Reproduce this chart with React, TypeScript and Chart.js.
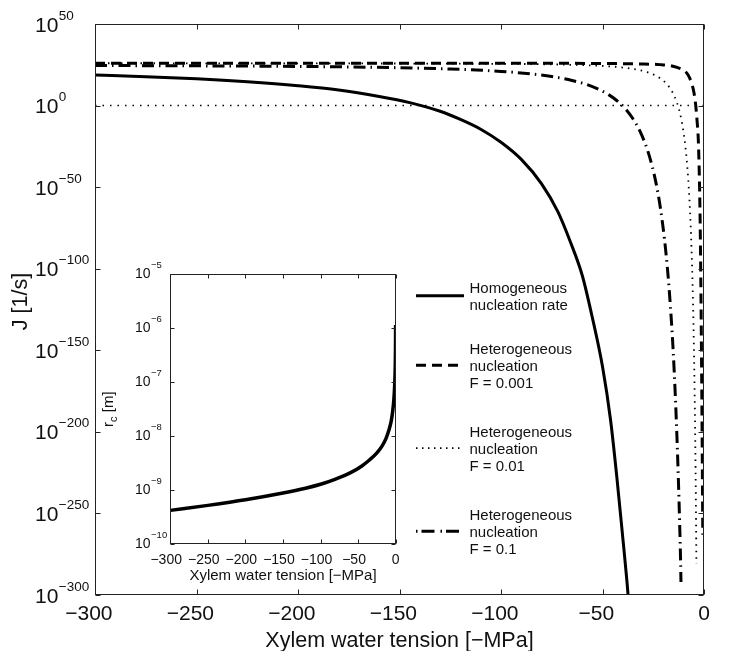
import React, { useEffect, useRef } from "react";
import { Chart, registerables } from "chart.js";

Chart.register(...registerables);

const FONT = '"Liberation Sans", Arial, Helvetica, sans-serif';
const INK = "#111";

// ---------- main chart data ----------
const X_TICKS = [-300, -250, -200, -150, -100, -50, 0];
const Y_TICK_EXPS = [50, 0, -50, -100, -150, -200, -250, -300];

// log10(J) values
const HOMO_X = [-300, -275, -250, -225, -200, -180, -160, -145, -130, -120, -110, -100, -90, -80, -72, -66, -60, -55, -50, -46, -43, -40, -38, -37];
const HOMO_LOGJ = [18.7, 17.7, 16.4, 14.6, 12.2, 9.6, 5.6, 1.8, -3.5, -8.5, -14.5, -22.5, -33, -48, -65, -83, -104, -130, -160, -193, -227, -265, -291, -306];

const F001_X = [-300, -100, -50, -30, -21.7, -16.7, -13.3, -10.2, -7.9, -6.06, -4.93, -4.19, -3.45, -2.8, -2.32, -1.97, -1.58, -1.13, -0.84, -0.59];
const F001_LOGJ = [26.0, 25.95, 25.8, 25.5, 25.1, 24.5, 23.4, 21.8, 18.9, 13.6, 7.8, 1.4, -8.8, -21.1, -42, -65, -105, -168, -217, -263];

const F01_X = [-300, -100, -60, -45, -38, -32, -28, -24, -21, -18.5, -16.5, -15, -13.5, -12.3, -11.2, -10.2, -9.3, -8.5, -7.8, -7.2, -6.6, -6.1, -5.6, -5.2, -4.8, -4.45, -4.15, -3.9, -3.74];
const F01_LOGJ = [25.95, 25.57, 24.8, 23.9, 23.0, 21.8, 20.5, 18.5, 16.2, 13.4, 10.2, 6.9, 2.4, -2.4, -8.3, -15.3, -23.7, -33.5, -44.7, -57, -72.7, -89.6, -111, -133, -160.6, -191, -223.7, -256.7, -281];

const F1_X = [-300, -250, -200, -150, -125, -100, -85, -75, -65, -58, -52, -47, -43, -39, -35, -31.5, -28, -25.5, -23.5, -21.5, -19.5, -18, -16.5, -15.2, -14.2, -13.3, -12.6, -12, -11.5, -11.35];
const F1_LOGJ = [24.55, 24.35, 24.0, 23.2, 22.4, 20.95, 19.4, 17.8, 15.4, 13.0, 10.0, 6.7, 3.1, -1.6, -8.1, -15.8, -26.7, -37.3, -48.3, -62.6, -81.5, -100, -123.8, -150, -175.9, -204, -230, -256, -281, -292];

const REF_X = [-300, 0];
const REF_LOGJ = [0, 0];

const LEGEND_LABELS = [
  ["Homogeneous", "nucleation rate"],
  ["Heterogeneous", "nucleation", "F = 0.001"],
  ["Heterogeneous", "nucleation", "F = 0.01"],
  ["Heterogeneous", "nucleation", "F = 0.1"],
];

// ---------- inset data ----------
const INSET_X_TICKS = [-300, -250, -200, -150, -100, -50, 0];
const INSET_Y_TICK_EXPS = [-5, -6, -7, -8, -9, -10];
const INSET_X = [-300, -250, -200, -150, -120, -100, -80, -60, -45, -35, -25, -18, -13, -9, -6, -4, -2.5, -1.5, -1, -0.6, -0.35, -0.2, -0.12];
const INSET_RC = [4.2e-10, 5.2e-10, 6.6e-10, 8.8e-10, 1.08e-9, 1.28e-9, 1.6e-9, 2.1e-9, 2.8e-9, 3.6e-9, 4.9e-9, 6.6e-9, 9.0e-9, 1.3e-8, 1.9e-8, 2.9e-8, 4.7e-8, 7.9e-8, 1.2e-7, 2e-7, 3.4e-7, 6e-7, 1.15e-6];

// ---------- helpers ----------
const toPoints = (xs: number[], logs: number[]) => xs.map((x, i) => ({ x, y: Math.pow(10, logs[i]) }));
const toPointsLin = (xs: number[], ys: number[]) => xs.map((x, i) => ({ x, y: ys[i] }));
const expText = (e: number) => (e < 0 ? "\u2212" + Math.abs(e) : String(e));

function drawPow(ctx: CanvasRenderingContext2D, left: number, py: number, e: number, base: number, sup: number, baseDy: number, supDy: number) {
  ctx.textAlign = "left";
  ctx.textBaseline = "alphabetic";
  ctx.font = `${base}px ${FONT}`;
  ctx.fillText("10", left, py + baseDy);
  const w = ctx.measureText("10").width;
  ctx.font = `${sup}px ${FONT}`;
  ctx.fillText(expText(e), left + w + 0.5, py + supDy);
}

function drawXLabel(ctx: CanvasRenderingContext2D, px: number, baseline: number, v: number, size: number) {
  ctx.font = `${size}px ${FONT}`;
  ctx.textBaseline = "alphabetic";
  ctx.textAlign = "left";
  const digits = String(Math.abs(v));
  const w = ctx.measureText(digits).width;
  const left = px - w / 2;
  ctx.fillText(digits, left, baseline);
  if (v < 0) {
    const wm = ctx.measureText("\u2212").width;
    ctx.fillText("\u2212", left - wm, baseline);
  }
}

function drawFrame(ctx: CanvasRenderingContext2D, chart: any, xt: number[], yvals: number[], len: number) {
  const a = chart.chartArea;
  const xs = chart.scales.x;
  const ys = chart.scales.y;
  const L = Math.round(a.left) + 0.5;
  const R = Math.round(a.right) - 0.5;
  const T = Math.round(a.top) + 0.5;
  const B = Math.round(a.bottom) - 0.5;
  ctx.strokeStyle = "#222";
  ctx.lineWidth = 1;
  ctx.setLineDash([]);
  ctx.strokeRect(L, T, R - L, B - T);
  ctx.beginPath();
  for (const v of xt) {
    const px = Math.round(xs.getPixelForValue(v)) + 0.5;
    ctx.moveTo(px, B);
    ctx.lineTo(px, B - len);
    ctx.moveTo(px, T);
    ctx.lineTo(px, T + len);
  }
  for (const v of yvals) {
    const py = Math.round(ys.getPixelForValue(v)) + 0.5;
    ctx.moveTo(L, py);
    ctx.lineTo(L + len, py);
    ctx.moveTo(R, py);
    ctx.lineTo(R - len, py);
  }
  ctx.stroke();
}

const LEGEND_STYLES = [
  { dash: [] as number[], width: 3 },
  { dash: [10, 6], width: 3 },
  { dash: [1.5, 4.5], width: 1.8 },
  { dash: [1.5, 4, 13, 6], width: 3 },
];

const mainDecor = {
  id: "mainDecor",
  afterDraw(chart: any) {
    const ctx: CanvasRenderingContext2D = chart.ctx;
    const a = chart.chartArea;
    const xs = chart.scales.x;
    const ys = chart.scales.y;
    ctx.save();
    drawFrame(ctx, chart, X_TICKS, Y_TICK_EXPS.map((e) => Math.pow(10, e)), 5);
    ctx.fillStyle = INK;
    for (const e of Y_TICK_EXPS) {
      const py = ys.getPixelForValue(Math.pow(10, e));
      drawPow(ctx, 35, py, e, 21, 13.5, 7.5, -4.5);
    }
    for (const v of X_TICKS) {
      drawXLabel(ctx, xs.getPixelForValue(v), 620, v, 21);
    }
    // axis titles
    ctx.font = `21.5px ${FONT}`;
    ctx.textAlign = "center";
    ctx.textBaseline = "alphabetic";
    ctx.fillText("Xylem water tension [\u2212MPa]", (a.left + a.right) / 2, 647);
    ctx.save();
    ctx.translate(27, (a.top + a.bottom) / 2 - 8);
    ctx.rotate(-Math.PI / 2);
    ctx.fillText("J [1/s]", 0, 0);
    ctx.restore();
    // legend
    const firstBaselines = [292.5, 353.5, 436.5, 519.5];
    const lh = 17;
    LEGEND_LABELS.forEach((lines, i) => {
      const b0 = firstBaselines[i];
      const sy = (b0 - 10.7 + b0 + (lines.length - 1) * lh) / 2;
      const st = LEGEND_STYLES[i];
      ctx.save();
      ctx.strokeStyle = "#000";
      ctx.lineWidth = st.width;
      ctx.lineCap = "butt";
      ctx.setLineDash(st.dash);
      ctx.beginPath();
      ctx.moveTo(416, sy);
      ctx.lineTo(464, sy);
      ctx.stroke();
      ctx.restore();
      ctx.font = `15px ${FONT}`;
      ctx.textAlign = "left";
      ctx.fillStyle = INK;
      lines.forEach((t, j) => ctx.fillText(t, 469.5, b0 + j * lh));
    });
    ctx.restore();
  },
};

const insetDecor = {
  id: "insetDecor",
  afterDraw(chart: any) {
    const ctx: CanvasRenderingContext2D = chart.ctx;
    const a = chart.chartArea;
    const xs = chart.scales.x;
    const ys = chart.scales.y;
    ctx.save();
    drawFrame(ctx, chart, INSET_X_TICKS, INSET_Y_TICK_EXPS.map((e) => Math.pow(10, e)), 4);
    ctx.fillStyle = INK;
    for (const e of INSET_Y_TICK_EXPS) {
      const py = ys.getPixelForValue(Math.pow(10, e));
      drawPow(ctx, 35, py, e, 14, 9.5, 3.5, -6.5);
    }
    for (const v of INSET_X_TICKS) {
      drawXLabel(ctx, xs.getPixelForValue(v), 313.5, v, 14);
    }
    ctx.font = `15px ${FONT}`;
    ctx.textAlign = "center";
    ctx.textBaseline = "alphabetic";
    ctx.fillText("Xylem water tension [\u2212MPa]", (a.left + a.right) / 2, 330);
    // rotated r_c [m]
    ctx.save();
    ctx.translate(13, (a.top + a.bottom) / 2);
    ctx.rotate(-Math.PI / 2);
    ctx.textAlign = "left";
    ctx.font = `15px ${FONT}`;
    const wr = ctx.measureText("r").width;
    ctx.font = `11px ${FONT}`;
    const wc = ctx.measureText("c").width;
    ctx.font = `15px ${FONT}`;
    const wm = ctx.measureText(" [m]").width;
    const start = -(wr + wc + wm) / 2;
    ctx.fillText("r", start, 0);
    ctx.font = `11px ${FONT}`;
    ctx.fillText("c", start + wr, 3.5);
    ctx.font = `15px ${FONT}`;
    ctx.fillText(" [m]", start + wr + wc, 0);
    ctx.restore();
    ctx.restore();
  },
};

const lineDs = (label: string, data: any[], width: number, dash: number[]) => ({
  label,
  data,
  borderColor: "#000",
  backgroundColor: "#000",
  borderWidth: width,
  borderDash: dash,
  borderCapStyle: "butt" as const,
  borderJoinStyle: "round" as const,
  pointRadius: 0,
  fill: false,
  cubicInterpolationMode: "monotone" as const,
});

export default function App() {
  const mainRef = useRef<HTMLCanvasElement>(null);
  const insetRef = useRef<HTMLCanvasElement>(null);

  useEffect(() => {
    const main = new Chart(mainRef.current as HTMLCanvasElement, {
      type: "line",
      data: {
        datasets: [
          lineDs("Homogeneous nucleation rate", toPoints(HOMO_X, HOMO_LOGJ), 3, []),
          lineDs("Heterogeneous nucleation F = 0.001", toPoints(F001_X, F001_LOGJ), 3, [10, 6]),
          lineDs("Heterogeneous nucleation F = 0.01", toPoints(F01_X, F01_LOGJ), 1.8, [1.5, 5]),
          lineDs("Heterogeneous nucleation F = 0.1", toPoints(F1_X, F1_LOGJ), 3, [12, 5, 1.5, 5]),
          lineDs("J = 1", toPoints(REF_X, REF_LOGJ), 1.5, [1.5, 6]),
        ],
      },
      options: {
        animation: false,
        responsive: false,
        events: [],
        layout: { padding: { top: 24, right: 30, left: 0, bottom: 0 } },
        plugins: { legend: { display: false }, tooltip: { enabled: false } },
        scales: {
          x: {
            type: "linear",
            min: -300,
            max: 0,
            grid: { display: false },
            border: { display: false },
            ticks: { display: false },
            afterFit: (s: any) => {
              s.height = 56;
            },
          },
          y: {
            type: "logarithmic",
            min: 1e-300,
            max: 1e50,
            grid: { display: false },
            border: { display: false },
            ticks: { display: false },
            afterBuildTicks: (s: any) => {
              s.ticks = Y_TICK_EXPS.map((e) => ({ value: Math.pow(10, e) }));
            },
            afterFit: (s: any) => {
              s.width = 95;
            },
          },
        },
      },
      plugins: [mainDecor],
    });

    const inset = new Chart(insetRef.current as HTMLCanvasElement, {
      type: "line",
      data: {
        datasets: [lineDs("r_c", toPointsLin(INSET_X, INSET_RC), 3.5, [])],
      },
      options: {
        animation: false,
        responsive: false,
        events: [],
        layout: { padding: { top: 24.3, right: 14.3, left: 0, bottom: 0 } },
        plugins: { legend: { display: false }, tooltip: { enabled: false } },
        scales: {
          x: {
            type: "linear",
            min: -300,
            max: 0,
            grid: { display: false },
            border: { display: false },
            ticks: { display: false },
            afterFit: (s: any) => {
              s.height = 51;
            },
          },
          y: {
            type: "logarithmic",
            min: 1e-10,
            max: 1e-5,
            grid: { display: false },
            border: { display: false },
            ticks: { display: false },
            afterBuildTicks: (s: any) => {
              s.ticks = INSET_Y_TICK_EXPS.map((e) => ({ value: Math.pow(10, e) }));
            },
            afterFit: (s: any) => {
              s.width = 70.3;
            },
          },
        },
      },
      plugins: [insetDecor],
    });

    return () => {
      main.destroy();
      inset.destroy();
    };
  }, []);

  return (
    <div style={{ position: "absolute", left: 0, top: 0, width: 734, height: 651, background: "#fff" }}>
      <canvas ref={mainRef} width={734} height={651} style={{ position: "absolute", left: 0, top: 0, width: 734, height: 651 }} />
      <canvas ref={insetRef} width={310} height={345} style={{ position: "absolute", left: 100, top: 250, width: 310, height: 345 }} />
    </div>
  );
}
